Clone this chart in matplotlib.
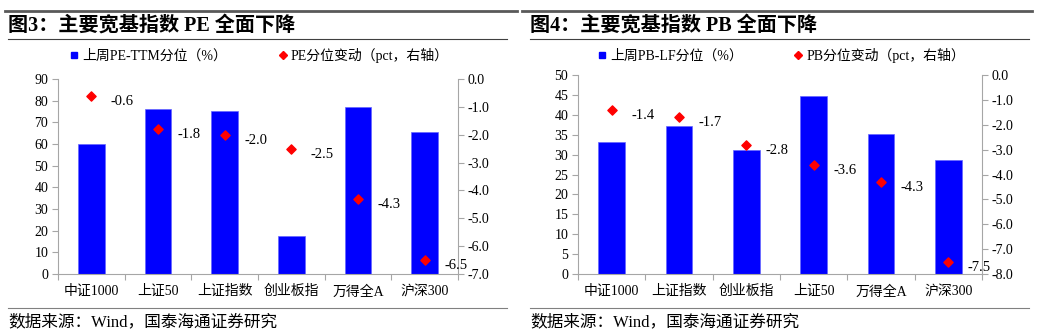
import matplotlib
matplotlib.use("Agg")
import matplotlib.pyplot as plt
from matplotlib.lines import Line2D
from matplotlib.ticker import FormatStrFormatter, FixedLocator
import numpy as np

plt.rcParams['font.family'] = ['Liberation Serif', 'Noto Sans CJK SC']
plt.rcParams['axes.unicode_minus'] = False

# 图3 数据
pe_cats = ['中证1000', '上证50', '上证指数', '创业板指', '万得全A', '沪深300']
pe_pct = [60.0, 76.0, 75.0, 17.4, 77.2, 65.7]
pe_chg = [-0.6, -1.8, -2.0, -2.5, -4.3, -6.5]

# 图4 数据
pb_cats = ['中证1000', '上证指数', '创业板指', '上证50', '万得全A', '沪深300']
pb_pct = [33.1, 37.3, 31.2, 44.8, 35.2, 28.6]
pb_chg = [-1.4, -1.7, -2.8, -3.6, -4.3, -7.5]

BLUE = '#0000FF'
RED = '#FF0000'
GRAY = '#A6A6A6'
W, H = 1037, 335

fig = plt.figure(figsize=(W / 100, H / 100), dpi=100)


def hline(x0, x1, y, lw, color):
    fig.add_artist(Line2D([x0 / W, x1 / W], [1 - y / H, 1 - y / H],
                          transform=fig.transFigure, lw=lw, color=color))


def painel(rect, cats, pct, chg, ymax, ystep, rmin, titulo, leg1, leg2, x0):
    ax = fig.add_axes(rect)
    x = np.arange(len(cats))
    ax.bar(x, pct, width=0.4, color=BLUE, edgecolor='#6666FF', linewidth=0.5, zorder=2)
    ax.set_xlim(-0.5, len(cats) - 0.5)
    ax.set_ylim(0, ymax)
    ax.set_yticks(np.arange(0, ymax + 0.1, ystep))
    ax.xaxis.set_major_locator(FixedLocator(np.arange(-0.5, len(cats), 1)))
    ax.set_xticklabels([])
    ax.set_xticks(x, minor=True)
    ax.set_xticklabels(cats, minor=True, fontsize=10)
    ax.tick_params(axis='x', which='major', length=4, color=GRAY, direction='out')
    ax.tick_params(axis='x', which='minor', length=0, pad=8)
    ax.tick_params(axis='y', length=4, color=GRAY, labelsize=10, pad=3)
    for s in ['left', 'bottom']:
        ax.spines[s].set_color(GRAY)
    ax.spines['top'].set_visible(False)
    ax.spines['right'].set_visible(False)

    ax2 = ax.twinx()
    ax2.scatter(x, chg, marker='D', s=22, color=RED, zorder=3)
    ax2.set_ylim(rmin, 0)
    ax2.set_yticks(np.arange(rmin, 0.1, 1))
    ax2.yaxis.set_major_formatter(FormatStrFormatter('%.1f'))
    ax2.tick_params(axis='y', length=4, color=GRAY, labelsize=10, pad=3)
    ax2.spines['right'].set_color(GRAY)
    for s in ['top', 'left', 'bottom']:
        ax2.spines[s].set_visible(False)
    for xi, v in zip(x, chg):
        ax2.annotate('%.1f' % v, (xi, v), xytext=(14, -4), textcoords='offset points',
                     fontsize=10.5, va='center', ha='left', zorder=4)

    h1 = Line2D([], [], marker='s', color=BLUE, linestyle='none', markersize=5)
    h2 = Line2D([], [], marker='D', color=RED, linestyle='none', markersize=4.5)
    cx = rect[0] + rect[2] / 2
    fig.legend([h1, h2], [leg1, leg2], loc='center', bbox_to_anchor=(cx, 1 - 55 / H),
               ncol=2, frameon=False, fontsize=10, handletextpad=0.1,
               columnspacing=3.5, handlelength=1)

    fig.text((x0 + 3) / W, 1 - 26 / H, titulo, fontsize=14.5, fontweight='bold',
             va='center', ha='left')
    fig.text((x0 + 3) / W, 1 - 322 / H, '数据来源：Wind，国泰海通证券研究', fontsize=12,
             va='center', ha='left')
    return ax


painel([58 / W, 1 - 274 / H, 400 / W, 195 / H], pe_cats, pe_pct, pe_chg, 90, 10, -7,
       '图3：主要宽基指数 PE 全面下降', '上周PE-TTM分位（%）', 'PE分位变动（pct，右轴）', 5)
painel([578 / W, 1 - 274 / H, 404 / W, 199 / H], pb_cats, pb_pct, pb_chg, 50, 5, -8,
       '图4：主要宽基指数 PB 全面下降', '上周PB-LF分位（%）', 'PB分位变动（pct，右轴）', 527)

# 分隔线
hline(5, 517, 11, 2, '#595959')
hline(522, 1032, 11, 2, '#595959')
hline(8, 507, 39, 0.8, '#404040')
hline(530, 1029, 39, 0.8, '#404040')
hline(8, 507, 308, 0.8, '#808080')
hline(530, 1029, 308, 0.8, '#808080')

fig.savefig('out.png', dpi=100)
